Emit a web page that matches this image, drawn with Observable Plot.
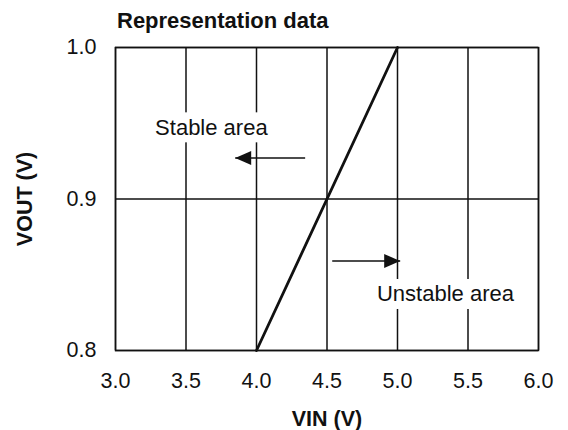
<!DOCTYPE html>
<html>
<head>
<meta charset="utf-8">
<script src="https://cdn.jsdelivr.net/npm/d3@7"></script>
<script src="https://cdn.jsdelivr.net/npm/@observablehq/plot@0.6"></script>
<style>
  html, body { margin: 0; padding: 0; background: #fff; }
  #wrap { position: relative; width: 568px; height: 430px; font-family: "Liberation Sans", Arial, Helvetica, sans-serif; }
  #title { position: absolute; left: 117px; top: 10px; font-size: 22px; line-height: 1; font-weight: bold; color: #111; white-space: nowrap; }
  #chart svg { display: block; }
  g[aria-label="x-axis label"], g[aria-label="y-axis label"] { font-weight: bold; }
</style>
</head>
<body>
<div id="wrap">
  <div id="chart"></div>
  <div id="title">Representation data</div>
</div>
<script>
// Tick values
const vinTicks = [3.0, 3.5, 4.0, 4.5, 5.0, 5.5, 6.0];
const voutTicks = [0.8, 0.9, 1.0];

// Boundary line (VIN, VOUT)
const vin = [4.0, 5.0];
const vout = [0.8, 1.0];

// Area annotations
const areaLabels = ["Stable area", "Unstable area"];
const labelVin = [3.68, 5.34];
const labelVout = [0.947, 0.837];

// Arrows (from -> to, at a VOUT level)
const arrowFrom = [4.345, 4.537];
const arrowTo = [3.849, 5.019];
const arrowVout = [0.927, 0.859];
const arrowDir = ["left", "right"];

const lineData = vin.map((x, i) => ({x, y: vout[i]}));
const labelData = areaLabels.map((t, i) => ({t, x: labelVin[i], y: labelVout[i]}));
const arrowData = arrowFrom.map((x1, i) => ({x1, x2: arrowTo[i], y: arrowVout[i], dir: arrowDir[i]}));

function head(dir) {
  const s = dir === "left" ? -1 : 1;
  return {
    draw(ctx, size) {
      const r = Math.sqrt(size / Math.PI);
      const L = r * 16 / 7, W = r;
      ctx.moveTo(0, 0);
      ctx.lineTo(-s * L, -W);
      ctx.lineTo(-s * L, W);
      ctx.closePath();
    }
  };
}

const font = "Liberation Sans, Arial, Helvetica, sans-serif";

const chart = Plot.plot({
  width: 568,
  height: 430,
  marginLeft: 115,
  marginRight: 30,
  marginTop: 47,
  marginBottom: 80,
  style: {fontFamily: font, background: "white", color: "#111", overflow: "visible"},
  x: {domain: [3, 6]},
  y: {domain: [0.8, 1.0]},
  marks: [
    Plot.ruleX(vinTicks, {stroke: "#111", strokeWidth: 1.5}),
    Plot.ruleY(voutTicks, {stroke: "#111", strokeWidth: 1.5}),
    Plot.frame({stroke: "#111", strokeWidth: 1.5}),
    Plot.line(lineData, {x: "x", y: "y", stroke: "#111", strokeWidth: 2.8}),
    Plot.link(arrowData, {x1: "x1", x2: "x2", y1: "y", y2: "y", stroke: "#111", strokeWidth: 1.5}),
    Plot.dot(arrowData.filter(d => d.dir === "left"), {x: "x2", y: "y", r: 7, symbol: head("left"), fill: "#111", stroke: "none"}),
    Plot.dot(arrowData.filter(d => d.dir === "right"), {x: "x2", y: "y", r: 7, symbol: head("right"), fill: "#111", stroke: "none"}),
    Plot.text(labelData, {x: "x", y: "y", text: "t", fontSize: 22, fill: "#111"}),
    Plot.axisX({ticks: vinTicks, tickFormat: d3.format(".1f"), tickSize: 0, tickPadding: 22, fontSize: 21.5,
      label: "VIN (V)", labelAnchor: "center", labelOffset: 75, labelArrow: false}),
    Plot.axisY({ticks: voutTicks, tickFormat: d3.format(".1f"), tickSize: 0, tickPadding: 19, fontSize: 21.5,
      label: "VOUT (V)", labelAnchor: "center", labelOffset: 99, labelArrow: false})
  ]
});

document.getElementById("chart").append(chart);

// white backing behind the area labels so the grid lines break around them
Array.from(chart.querySelectorAll("text"))
  .filter(t => areaLabels.includes(t.textContent))
  .forEach(t => {
    const b = t.getBBox();
    const pad = 2.5;
    const rect = document.createElementNS("http://www.w3.org/2000/svg", "rect");
    rect.setAttribute("x", b.x - pad);
    rect.setAttribute("y", b.y - pad);
    rect.setAttribute("width", b.width + 2 * pad);
    rect.setAttribute("height", b.height + 2 * pad);
    rect.setAttribute("fill", "white");
    rect.setAttribute("stroke", "none");
    const tr = t.getAttribute("transform");
    if (tr) rect.setAttribute("transform", tr);
    t.parentNode.insertBefore(rect, t);
  });
</script>
</body>
</html>
